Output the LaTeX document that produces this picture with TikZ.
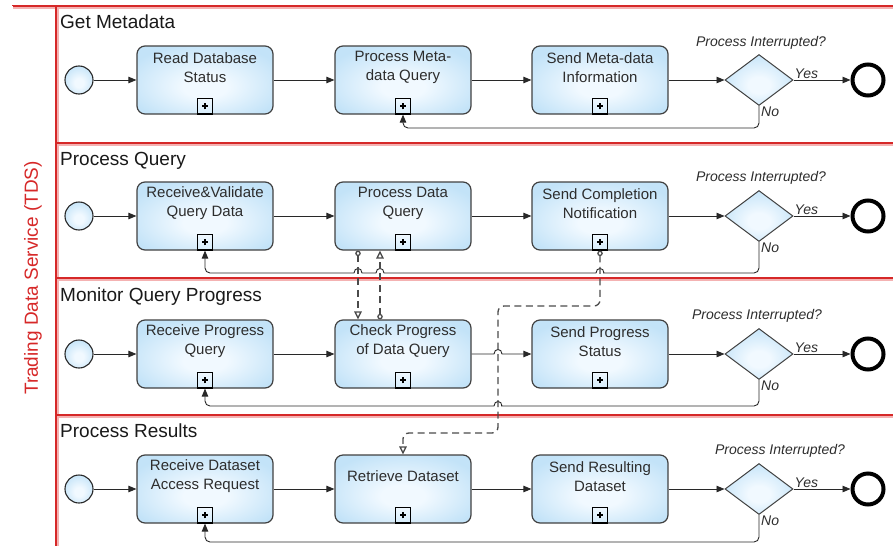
\documentclass[tikz,border=0pt]{standalone}
\usepackage{fontspec}
\setmainfont{Liberation Sans}
\usetikzlibrary{arrows.meta,shapes.geometric}

\definecolor{poolred}{RGB}{214,40,40}
\definecolor{poolpink}{RGB}{244,178,178}
\definecolor{taskedge}{RGB}{65,65,65}
\definecolor{taskin}{RGB}{241,249,255}
\definecolor{taskout}{RGB}{195,227,248}
\definecolor{inktext}{RGB}{45,45,45}
\definecolor{flowink}{RGB}{40,40,40}
\definecolor{msggray}{RGB}{75,75,75}

% soft bluish glow used for tasks, gateways and start events
\pgfdeclareradialshading{taskglow}{\pgfpoint{0bp}{-6bp}}{%
  color(0bp)=(taskin); color(8bp)=(taskin); color(30bp)=(taskout); color(50bp)=(taskout)}

\begin{document}
\begin{tikzpicture}[x=1pt,y=-1pt,
  task/.style={draw=taskedge, line width=1.2pt, rounded corners=8pt,
    minimum width=136pt, minimum height=68pt, inner sep=0pt, shade, shading=taskglow},
  tasktext/.style={align=center, inner sep=0pt, text=inktext,
    font=\fontsize{15}{19}\selectfont},
  marker/.style={draw=black, line width=1.2pt, minimum size=15.5pt, inner sep=0pt,
    anchor=south,
    path picture={\draw[line width=1.7pt]
      ([xshift=-3pt]path picture bounding box.center) -- ([xshift=3pt]path picture bounding box.center)
      ([yshift=-3pt]path picture bounding box.center) -- ([yshift=3pt]path picture bounding box.center);}},
  startev/.style={circle, draw=flowink, line width=1.1pt, minimum size=28pt,
    inner sep=0pt, shade, shading=taskglow},
  endev/.style={circle, draw=black, line width=4pt, minimum size=31pt,
    inner sep=0pt, fill=white},
  gateway/.style={diamond, draw=taskedge, line width=1pt, minimum width=68pt,
    minimum height=51pt, inner sep=0pt, shade, shading=taskglow},
  gatelabel/.style={text=inktext, inner sep=1pt, font=\itshape\fontsize{14}{16}\selectfont},
  lanetitle/.style={anchor=base west, inner sep=0pt, text={rgb,255:red,25;green,25;blue,25},
    font=\fontsize{19}{22}\selectfont},
  flowline/.style={draw=flowink, line width=0.9pt, -{Triangle[length=8pt,width=6.5pt]}},
  msgline/.style={draw=msggray, line width=1.3pt, dash pattern=on 7pt off 4.5pt,
    {Circle[length=5.5pt,fill=white]}-{Triangle[length=8pt,width=7.5pt,fill=white]}},
  lanerule/.style={draw=poolred, line width=1.3pt},
  laneglow/.style={draw=poolpink, line width=3pt},
]
\useasboundingbox (0,0) rectangle (893,546);

% ---- pool and lanes ----
\foreach \ly in {6,143,278,415} {
  \draw[laneglow] (56,\ly+1.2) -- (893,\ly+1.2);
}
\draw[laneglow] (12,7.2) -- (56,7.2);
\draw[laneglow] (57.2,6) -- (57.2,546);
\draw[lanerule] (12,6) -- (893,6);
\foreach \ly in {143,278,415} {
  \draw[lanerule] (56,\ly) -- (893,\ly);
}
\draw[lanerule] (56,6) -- (56,546);
\draw[draw={rgb,255:red,236;green,110;blue,110}, line width=0.8pt,
  double=white, double distance=1.2pt] (12,6) -- (12,546);

\node[rotate=90, text=poolred, inner sep=0pt, font=\fontsize{19}{22}\selectfont]
  (pool) at (33,278) {Trading Data Service (TDS)};

\node[lanetitle] (lane1) at (60,28)  {Get Metadata};
\node[lanetitle] (lane2) at (60,165) {Process Query};
\node[lanetitle] (lane3) at (60,301) {Monitor Query Progress};
\node[lanetitle] (lane4) at (60,437) {Process Results};

% ---- lane 1: Get Metadata ----
\node[startev] (s1) at (79,80) {};
\node[task] (t11) at (205,80) {};
\node[task] (t12) at (403,80) {};
\node[task] (t13) at (600,80) {};
\node[gateway] (d1) at (759,80) {};
\node[endev] (e1) at (868,80) {};
\node[tasktext] (l11) at ([yshift=12.5pt]t11.center) {Read Database\\Status};
\node[tasktext] (l12) at ([yshift=12.5pt]t12.center) {Process Meta-\\data Query};
\node[tasktext] (l13) at ([yshift=12.5pt]t13.center) {Send Meta-data\\Information};
\node[marker] (m11) at (t11.south) {};
\node[marker] (m12) at (t12.south) {};
\node[marker] (m13) at (t13.south) {};
\node[gatelabel] (q1) at (761,43) {Process Interrupted?};
\node[gatelabel, anchor=south west] (y1) at (d1.east) {Yes};
\node[gatelabel, anchor=north west] (n1) at ([xshift=1pt]d1.south) {No};

% ---- lane 2: Process Query ----
\node[startev] (s2) at (79,216) {};
\node[task] (t21) at (205,216) {};
\node[task] (t22) at (403,216) {};
\node[task] (t23) at (600,216) {};
\node[gateway] (d2) at (759,216) {};
\node[endev] (e2) at (868,216) {};
\node[tasktext] (l21) at ([yshift=12.5pt]t21.center) {Receive\&Validate\\Query Data};
\node[tasktext] (l22) at ([yshift=12.5pt]t22.center) {Process Data\\Query};
\node[tasktext] (l23) at ([yshift=12.5pt]t23.center) {Send Completion\\Notification};
\node[marker] (m21) at (t21.south) {};
\node[marker] (m22) at (t22.south) {};
\node[marker] (m23) at (t23.south) {};
\node[gatelabel] (q2) at (761,178) {Process Interrupted?};
\node[gatelabel, anchor=south west] (y2) at (d2.east) {Yes};
\node[gatelabel, anchor=north west] (n2) at ([xshift=1pt]d2.south) {No};

% ---- lane 3: Monitor Query Progress ----
\node[startev] (s3) at (79,354) {};
\node[task] (t31) at (205,354) {};
\node[task] (t32) at (403,354) {};
\node[task] (t33) at (600,354) {};
\node[gateway] (d3) at (759,354) {};
\node[endev] (e3) at (868,354) {};
\node[tasktext] (l31) at ([yshift=12.5pt]t31.center) {Receive Progress\\Query};
\node[tasktext] (l32) at ([yshift=12.5pt]t32.center) {Check Progress\\of Data Query};
\node[tasktext] (l33) at ([yshift=12.5pt]t33.center) {Send Progress\\Status};
\node[marker] (m31) at (t31.south) {};
\node[marker] (m32) at (t32.south) {};
\node[marker] (m33) at (t33.south) {};
\node[gatelabel] (q3) at (757,316) {Process Interrupted?};
\node[gatelabel, anchor=south west] (y3) at (d3.east) {Yes};
\node[gatelabel, anchor=north west] (n3) at ([xshift=1pt]d3.south) {No};

% ---- lane 4: Process Results ----
\node[startev] (s4) at (79,489) {};
\node[task] (t41) at (205,489) {};
\node[task] (t42) at (403,489) {};
\node[task] (t43) at (600,489) {};
\node[gateway] (d4) at (759,489) {};
\node[endev] (e4) at (868,489) {};
\node[tasktext] (l41) at ([yshift=12.5pt]t41.center) {Receive Dataset\\Access Request};
\node[tasktext] (l42) at ([yshift=12.5pt]t42.center) {Retrieve Dataset};
\node[tasktext] (l43) at ([yshift=12.5pt]t43.center) {Send Resulting\\Dataset};
\node[marker] (m41) at (t41.south) {};
\node[marker] (m42) at (t42.south) {};
\node[marker] (m43) at (t43.south) {};
\node[gatelabel] (q4) at (780,451) {Process Interrupted?};
\node[gatelabel, anchor=south west] (y4) at (d4.east) {Yes};
\node[gatelabel, anchor=north west] (n4) at ([xshift=1pt]d4.south) {No};

% ---- sequence flows ----
\foreach \r in {1,2,3,4} {
  \draw[flowline] (s\r) -- (t\r1);
  \draw[flowline] (t\r1) -- (t\r2);
  \draw[flowline] (t\r3) -- (d\r);
  \draw[flowline] (d\r) -- (e\r);
}
\draw[flowline] (t12) -- (t13);
\draw[flowline] (t22) -- (t23);
\draw[flowline] (t42) -- (t43);
% flow that hops over the message line
\draw[flowline] (t32) -- (494,354) .. controls (494,348) and (502,348) .. (502,354) -- (t33);

% ---- "No" loops back ----
\draw[flowline, rounded corners=5pt] (d1.south) -- (759,128) -| (t12.south);
\draw[flowline] (d2.south) [rounded corners=5pt] -- (759,273) -- (608,273)
  [sharp corners] -- (604,273) .. controls (604,267) and (596,267) .. (596,273)
  -- (384,273) .. controls (384,267) and (376,267) .. (376,273)
  -- (362,273) .. controls (362,267) and (354,267) .. (354,273)
  -- (350,273) [rounded corners=5pt] -| (t21.south);
\draw[flowline] (d3.south) [rounded corners=5pt] -- (759,406) -- (506,406)
  [sharp corners] -- (502,406) .. controls (502,400) and (494,400) .. (494,406)
  -- (490,406) [rounded corners=5pt] -| (t31.south);
\draw[flowline, rounded corners=5pt] (d4.south) -- (759,542) -| (t41.south);

% ---- message flows ----
\draw[msgline] ([xshift=-45pt]t22.south) -- ([xshift=-45pt]t32.north);
\draw[msgline] ([xshift=-23pt]t32.north) -- ([xshift=-23pt]t22.south);
\draw[msgline, rounded corners=6pt] (t23.south) -- (600,306) -- (498,306)
  -- (498,433) -| (t42.north);
\end{tikzpicture}
\end{document}
